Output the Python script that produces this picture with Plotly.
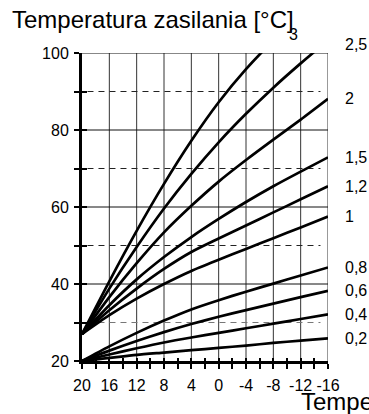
import plotly.graph_objects as go

# ---------------- data ----------------
outdoor = [20, 16, 12, 8, 4, 0, -4, -8, -12, -16]
curve_names = ["0,2", "0,4", "0,6", "0,8", "1", "1,2", "1,5", "2", "2,5", "3"]

c02 = [20, 20.8, 21.6, 22.2, 22.8, 23.4, 24.0, 24.7, 25.3, 25.9]
c04 = [20, 21.7, 23.3, 24.8, 26.1, 27.3, 28.5, 29.7, 30.9, 32.1]
c06 = [20, 22.7, 25.2, 27.5, 29.6, 31.5, 33.2, 34.9, 36.6, 38.2]
c08 = [20, 23.8, 27.3, 30.5, 33.4, 35.8, 38.0, 40.1, 42.2, 44.3]
c10 = [27, 31.9, 36.2, 40.0, 43.4, 46.3, 49.1, 51.9, 54.7, 57.5]
c12 = [27, 33.2, 38.8, 43.9, 48.3, 51.8, 55.2, 58.6, 62.0, 65.4]
c15 = [27, 34.5, 41.2, 47.0, 52.2, 56.9, 61.3, 65.4, 69.2, 72.9]
c20 = [27, 36.6, 45.4, 53.4, 60.3, 66.6, 72.2, 77.5, 82.7, 88.1]
c25 = [27, 38.8, 49.6, 59.6, 68.6, 76.8, 84.2, 91.0, 97.3, 103.3]
c30 = [27, 40.7, 53.8, 66.0, 77.2, 87.2, 95.8, 103.2, 109.6, 115.2]
curves = [c02, c04, c06, c08, c10, c12, c15, c20, c25, c30]

x_ticks = [20, 16, 12, 8, 4, 0, -4, -8, -12, -16]
x_minor = [18, 14, 10, 6, 2, -2, -6, -10, -14]
y_labels = [20, 40, 60, 80, 100]
y_solid = [40, 60, 80, 100]
y_dashed = [30, 50, 70, 90]

title_text = "Temperatura zasilania [°C]"
xtitle_text = "Temperatura zewnętrzna [°C]"

# ---------------- figure ----------------
FONT = "Liberation Sans, Arial, sans-serif"
X0, X1, Y0, Y1 = 20, -16, 20, 100


def px(x):
    return (X0 - x) / (X0 - X1)


def py(y):
    return (y - Y0) / (Y1 - Y0)


fig = go.Figure()

for name, ys in zip(curve_names, curves):
    fig.add_trace(go.Scatter(
        x=outdoor, y=ys, mode="lines", name=name,
        line=dict(color="black", width=2.7, shape="spline", smoothing=0.7),
        showlegend=False, hoverinfo="skip"))

# helper trace for overlay axes (inside ticks)
fig.add_trace(go.Scatter(x=[None], y=[None], xaxis="x2", yaxis="y2",
                         showlegend=False, hoverinfo="skip"))

shapes = []
for xv in x_ticks[1:]:
    shapes.append(dict(type="line", xref="x", yref="y", x0=xv, x1=xv, y0=Y0, y1=Y1,
                       line=dict(color="#333333", width=1), layer="below"))
for yv in y_solid:
    shapes.append(dict(type="line", xref="x", yref="y", x0=X0, x1=X1, y0=yv, y1=yv,
                       line=dict(color="#111111", width=1), layer="below"))
for yv in y_dashed:
    shapes.append(dict(type="line", xref="x", yref="y", x0=19.2, x1=-14.9, y0=yv, y1=yv,
                       line=dict(color="#777777" if yv == 30 else "#222222", width=1,
                                 dash="6px,5px"), layer="below"))

all_x = sorted(x_ticks + x_minor, reverse=True)
x_text = [str(v) if v in x_ticks else "" for v in all_x]
all_y = list(range(20, 101, 10))
y_text = [str(v) if v in y_labels else "" for v in all_y]

fig.update_layout(
    width=369, height=414,
    margin=dict(l=82, r=41, t=53, b=53),
    paper_bgcolor="white", plot_bgcolor="white",
    font=dict(family=FONT, size=16, color="black"),
    shapes=shapes,
    xaxis=dict(range=[X0, X1], tickmode="array", tickvals=all_x, ticktext=x_text,
               ticks="outside", ticklen=5, tickwidth=2, tickcolor="black",
               showline=True, linecolor="black", linewidth=3,
               showgrid=False, zeroline=False, ticklabelstandoff=3,
               tickfont=dict(size=16)),
    yaxis=dict(range=[Y0, Y1], tickmode="array", tickvals=all_y, ticktext=y_text,
               ticks="outside", ticklen=5, tickwidth=2, tickcolor="black",
               showline=True, linecolor="black", linewidth=3,
               showgrid=False, zeroline=False, ticklabelstandoff=2,
               tickfont=dict(size=16)),
    xaxis2=dict(range=[X0, X1], overlaying="x", anchor="y", side="bottom",
                tickmode="array", tickvals=all_x, ticks="inside", ticklen=3,
                tickwidth=2, tickcolor="black", showticklabels=False,
                showgrid=False, zeroline=False, showline=False),
    yaxis2=dict(range=[Y0, Y1], overlaying="y", anchor="x", side="left",
                tickmode="array", tickvals=all_y, ticks="inside", ticklen=5,
                tickwidth=2, tickcolor="black", showticklabels=False,
                showgrid=False, zeroline=False, showline=False),
)

annotations = [
    dict(text=title_text, xref="paper", yref="paper", x=-0.293, y=1.109,
         xanchor="left", yanchor="middle", showarrow=False,
         font=dict(size=24, family=FONT)),
    dict(text=xtitle_text, xref="paper", yref="paper", x=0.884, y=-0.133,
         xanchor="left", yanchor="middle", showarrow=False,
         font=dict(size=24, family=FONT)),
]
for name, ys in zip(curve_names, curves):
    if ys[-1] <= Y1:
        annotations.append(dict(text=name, xref="paper", yref="paper",
                                x=px(-18.25), y=py(ys[-1]),
                                xanchor="left", yanchor="middle", showarrow=False,
                                font=dict(size=16, family=FONT)))
annotations.append(dict(text="2,5", xref="paper", yref="paper", x=px(-18.25), y=py(102.2),
                        xanchor="left", yanchor="middle", showarrow=False,
                        font=dict(size=16, family=FONT)))
annotations.append(dict(text="3", xref="paper", yref="paper", x=px(-10.9), y=py(104.8),
                        xanchor="center", yanchor="middle", showarrow=False,
                        font=dict(size=16, family=FONT)))
fig.update_layout(annotations=annotations)

fig.write_html("out.html", config={"displayModeBar": False},
               post_script="document.body.style.margin='0';document.body.style.overflow='hidden';")
